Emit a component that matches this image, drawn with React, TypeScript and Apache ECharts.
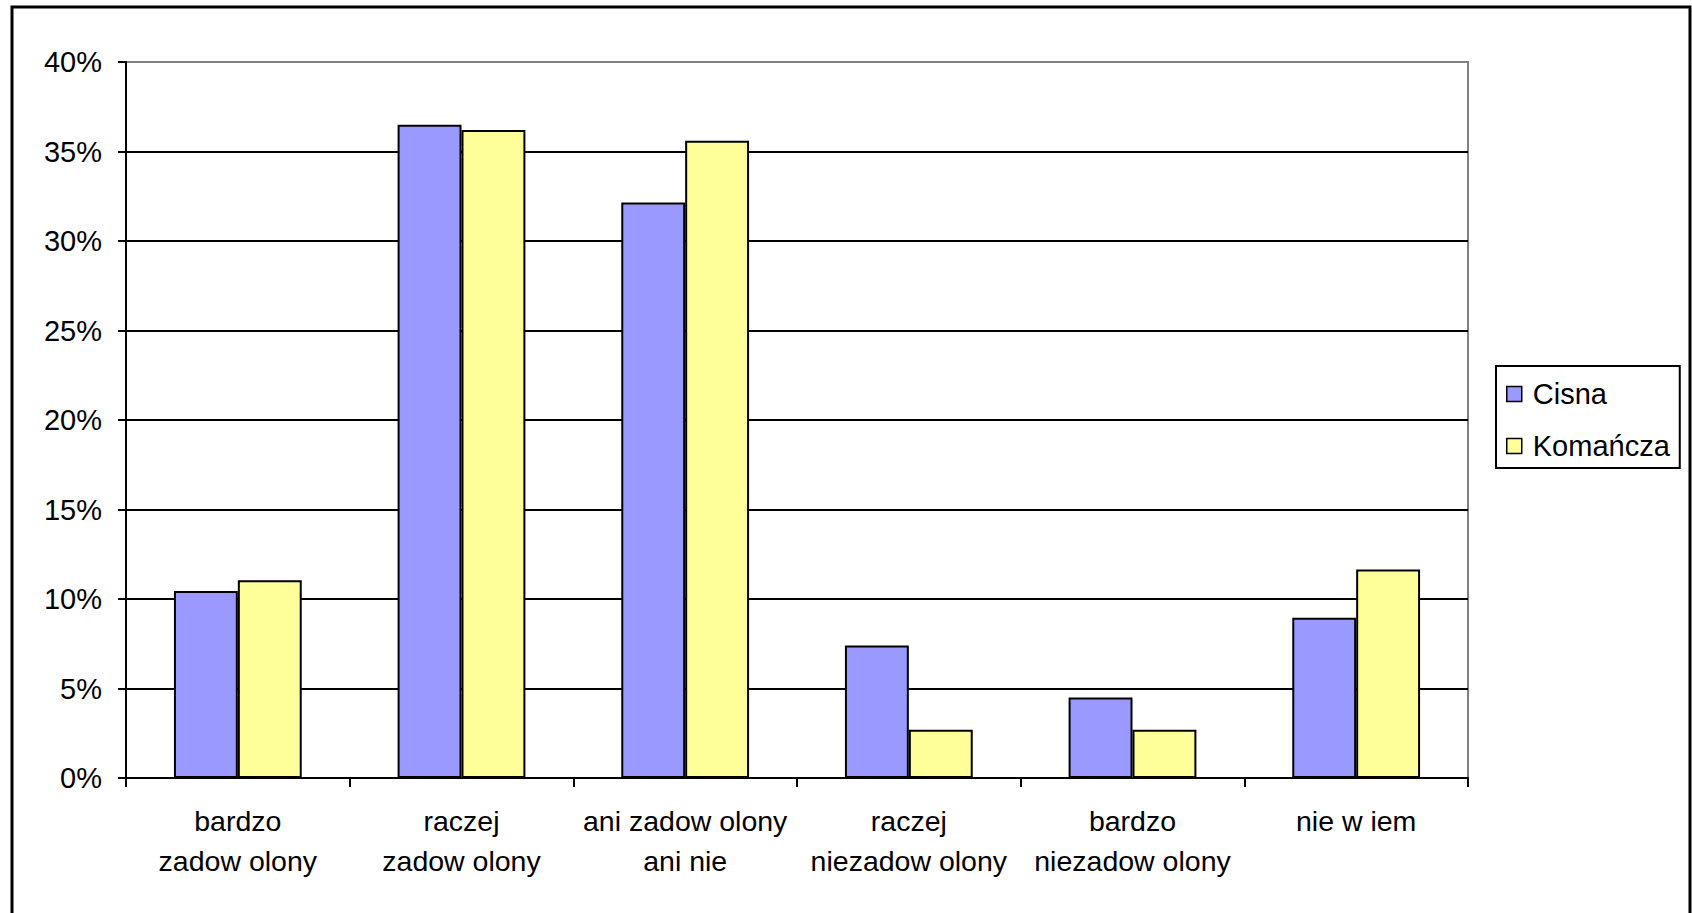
import React, { useEffect, useRef } from "react";
import * as echarts from "echarts";

const categories = [
  "bardzo\nzadow olony",
  "raczej\nzadow olony",
  "ani zadow olony\nani nie",
  "raczej\nniezadow olony",
  "bardzo\nniezadow olony",
  "nie w iem",
];
const cisna = [10.45, 36.5, 32.15, 7.4, 4.5, 8.95];
const komancza = [11.05, 36.2, 35.6, 2.7, 2.7, 11.65];
const seriesNames = ["Cisna", "Komańcza"];
const yMin = 0;
const yMax = 40;
const yInterval = 5;

const FONT = "'Liberation Sans', Arial, sans-serif";

export default function App() {
  const ref = useRef<HTMLDivElement>(null);
  useEffect(() => {
    if (!ref.current) return;
    const chart = echarts.init(ref.current, undefined, { renderer: "svg" });
    const nLines = (yMax - yMin) / yInterval + 1;
    const splitColors = Array.from({ length: nLines }, (_, i) =>
      i === nLines - 1 ? "#808080" : "#000000"
    );
    chart.setOption({
      animation: false,
      backgroundColor: "#ffffff",
      textStyle: { fontFamily: FONT },
      grid: {
        left: 126,
        right: 224,
        top: 62,
        bottom: 135,
        show: true,
        borderColor: "#808080",
        borderWidth: 2,
        backgroundColor: "transparent",
      },
      legend: {
        orient: "vertical",
        left: 1496,
        top: 366,
        data: seriesNames,
        icon: "rect",
        itemWidth: 15,
        itemHeight: 15,
        itemGap: 22,
        padding: [13, 10, 7, 10],
        borderColor: "#000",
        borderWidth: 2,
        backgroundColor: "#fff",
        itemStyle: { borderColor: "#000", borderWidth: 1.5 },
        textStyle: {
          fontSize: 29,
          color: "#000",
          fontFamily: FONT,
          lineHeight: 30,
          padding: [0, 0, 0, 6],
        },
      },
      xAxis: {
        type: "category",
        data: categories,
        axisLine: { show: true, lineStyle: { color: "#000", width: 2 } },
        axisTick: {
          show: true,
          alignWithLabel: false,
          length: 9,
          lineStyle: { color: "#000", width: 2 },
        },
        axisLabel: {
          interval: 0,
          fontSize: 28.5,
          lineHeight: 40,
          color: "#000",
          margin: 23,
          fontFamily: FONT,
        },
        splitLine: { show: false },
      },
      yAxis: {
        type: "value",
        min: yMin,
        max: yMax,
        interval: yInterval,
        axisLine: { show: true, lineStyle: { color: "#000", width: 2 } },
        axisTick: { show: true, length: 8, lineStyle: { color: "#000", width: 2 } },
        axisLabel: {
          formatter: "{value}%",
          fontSize: 29,
          color: "#000",
          margin: 24,
          fontFamily: FONT,
        },
        splitLine: { show: true, lineStyle: { color: splitColors, width: 2 } },
      },
      series: [
        {
          name: seriesNames[0],
          type: "bar",
          data: cisna,
          barGap: "0%",
          barCategoryGap: "42.86%",
          itemStyle: { color: "#9999FF", borderColor: "#000", borderWidth: 2 },
        },
        {
          name: seriesNames[1],
          type: "bar",
          data: komancza,
          barGap: "0%",
          barCategoryGap: "42.86%",
          itemStyle: { color: "#FFFF99", borderColor: "#000", borderWidth: 2 },
        },
      ],
      graphic: [
        {
          type: "rect",
          shape: { x: 12, y: 7, width: 1678, height: 930 },
          style: { fill: "none", stroke: "#000", lineWidth: 3 },
          silent: true,
          z: 100,
        },
      ],
    });
    return () => chart.dispose();
  }, []);
  return (
    <div
      ref={ref}
      style={{ position: "fixed", left: 0, top: 0, width: 1692, height: 913 }}
    />
  );
}
